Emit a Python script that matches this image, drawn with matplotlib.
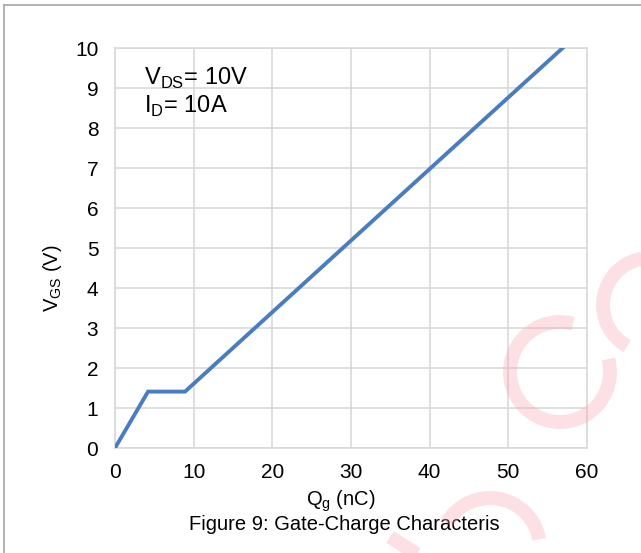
import matplotlib
matplotlib.use("Agg")
import matplotlib.pyplot as plt
from matplotlib.patches import Arc

qg = [0, 4.2, 8.9, 56.9]
vgs = [0, 1.41, 1.41, 10]
xticks = [0, 10, 20, 30, 40, 50, 60]
yticks = [0, 1, 2, 3, 4, 5, 6, 7, 8, 9, 10]

plt.rcParams['font.family'] = ['Liberation Sans', 'DejaVu Sans']

W, H = 641, 553
fig = plt.figure(figsize=(W/100, H/100), dpi=100)
ax = fig.add_axes([115/W, 1-448/H, 472/W, 400/H])

ax.plot(qg, vgs, color='#4A7DBF', lw=2.8, solid_joinstyle='miter', zorder=3)
ax.set_xlim(0, 60)
ax.set_ylim(0, 10)
ax.set_xticks(xticks)
ax.set_yticks(yticks)
ax.grid(True, color='#D9D9D9', lw=1.2)
ax.set_axisbelow(True)
for s in ax.spines.values():
    s.set_color('#D9D9D9')
    s.set_linewidth(1.2)
ax.tick_params(length=0, labelsize=15, colors='black')
ax.tick_params(axis='y', pad=12)
ax.tick_params(axis='x', pad=11)

fs = 14.5
ax.set_ylabel('V$_\\mathregular{GS}$ (V)', fontsize=fs)
ax.yaxis.set_label_coords((64-115)/472, (448-278)/400)

fig.text(341/W, 1-506/H, 'Q$_\\mathregular{g}$ (nC)', fontsize=fs,
         ha='center', va='baseline')
fig.text(344/W, 1-530/H, 'Figure 9: Gate-Charge Characteris', fontsize=fs,
         ha='center', va='baseline')

ax.text((144-115)/472, (448-85)/400, 'V$_\\mathregular{DS}$= 10V', transform=ax.transAxes,
        fontsize=17, va='baseline', ha='left')
ax.text((144-115)/472, (448-113)/400, 'I$_\\mathregular{D}$= 10A', transform=ax.transAxes,
        fontsize=17, va='baseline', ha='left')

# figure border lines (top and left)
fig.add_artist(plt.Line2D([4/W, 4/W], [0, 1-5/H], transform=fig.transFigure,
                          color='#A6A6A6', lw=1.2))
fig.add_artist(plt.Line2D([4/W, 1], [1-5/H, 1-5/H], transform=fig.transFigure,
                          color='#A6A6A6', lw=1.2))

# faint watermark arcs
wm = dict(transform=None, color='#F7A8B0', lw=10, alpha=0.35, zorder=10)
def arc(cx, cy, r, t1, t2):
    fig.add_artist(Arc((cx, H - cy), 2*r, 2*r, theta1=t1, theta2=t2, **wm))
arc(560, 372, 50, 75, 15)
arc(650, 305, 47, 100, 241)
arc(490, 548, 50, 10, 150)
fig.add_artist(plt.Line2D([390, 420], [H-537, H-556], transform=None,
                          color='#F7A8B0', lw=10, alpha=0.35, solid_capstyle='butt'))
fig.savefig('out.png', dpi=100)
